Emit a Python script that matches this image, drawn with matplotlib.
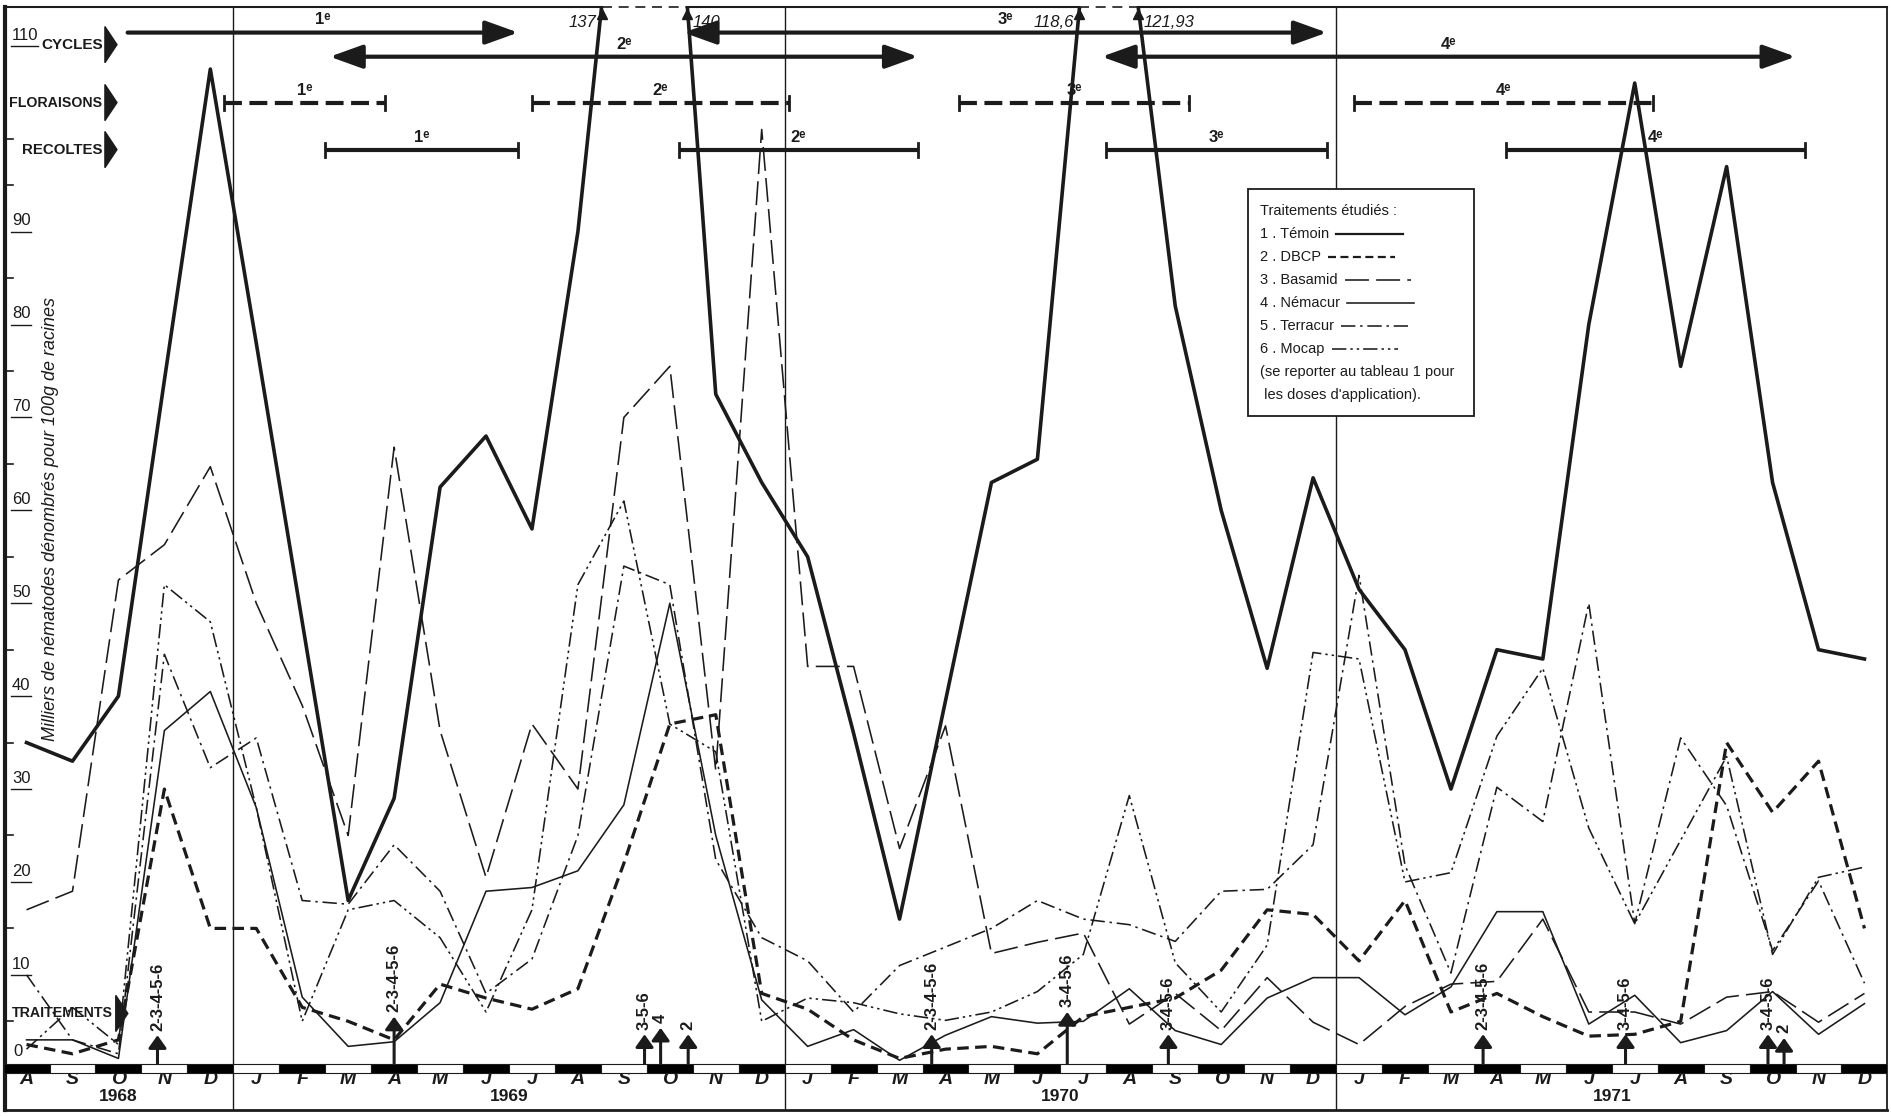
import numpy as np
import matplotlib.pyplot as plt
from matplotlib.patches import Polygon, Rectangle

# months from Aug 1968 to Dec 1971 (index 0 = Aug 1968)
month_letters = ['A', 'S', 'O', 'N', 'D'] + ['J', 'F', 'M', 'A', 'M', 'J', 'J', 'A', 'S', 'O', 'N', 'D'] * 3
years = ['1968', '1969', '1970', '1971']
year_first = [0, 5, 17, 29]
year_last = [4, 16, 28, 40]

# thousands of nematodes per 100 g of roots
temoin = [35, 33, 40, 74, 107.5, 78, 48, 18, 29, 62.5, 68, 58, 90, 137, 140, 72.5, 63,
          55, 36, 16, 39.5, 63, 65.5, 118.6, 121.93, 82, 60, 43, 63.5,
          51.5, 45, 30, 45, 44, 80, 106, 75.5, 97, 63, 45, 44]
dbcp = [2.5, 1.5, 3, 30, 15, 15, 6.5, 5, 3, 9, 7.5, 6.3, 8.5, 22, 37, 38, 8,
        6.3, 3, 1, 2, 2.3, 1.5, 5.5, 6.5, 7.5, 10.5, 17, 16.5,
        11.5, 18, 6, 8, 5.5, 3.4, 3.6, 5, 35, 27.5, 33, 15]
basamid = [17, 19, 52.5, 56.3, 64.7, 50, 39, 25, 66.8, 36.3, 20.5, 37, 30, 70, 75.5, 32, 101,
           43.2, 43.2, 23.6, 36.8, 12.3, 13.5, 14.5, 4.7, 8, 4, 9.7, 4.9,
           2.5, 6.6, 9, 9.3, 16, 6, 6, 4.7, 7.6, 8.2, 4.9, 8]
nemacur = [3, 3, 1, 36.3, 40.5, 28, 7.6, 2.3, 2.8, 7, 19, 19.4, 21.2, 28.3, 50, 25, 7.3,
           2.3, 4.1, 0.8, 3.5, 5.5, 4.8, 5, 8.5, 4, 2.5, 7.5, 9.7,
           9.7, 5.7, 8.7, 16.8, 16.8, 4.7, 7.8, 2.7, 4, 8.2, 3.6, 6.9]
terracur = [10, 3, 1.5, 44.5, 32.3, 35.5, 18, 17.6, 24, 19, 8, 11.7, 25, 54, 52, 22.4, 14,
            11.5, 6, 11, 13, 15, 18, 16, 15.4, 13.6, 19, 19.2, 24,
            53, 21.8, 10.2, 30.2, 26.5, 50, 15.5, 35.5, 28.2, 12.6, 20.1, 9.1]
mocap = [2, 6.5, 2.5, 52, 48, 28, 5, 17, 18, 14, 6, 17, 52, 61, 37, 34, 5,
         7.5, 7, 5.8, 5.1, 6, 8.2, 12.2, 29.3, 11.3, 6, 13.2, 44.7,
         44, 20, 21, 35.7, 43, 25.8, 15.5, 24.5, 33.5, 12.2, 20.5, 21.6]
names = ['Témoin', 'DBCP', 'Basamid', 'Némacur', 'Terracur', 'Mocap']

# crop periods, in month index
cycle_start = [2.2, 6.6, 14.3, 23.4]
cycle_end = [10.7, 19.4, 28.3, 38.5]
flor_start = [4.3, 11.0, 20.3, 28.9]
flor_end = [7.8, 16.6, 25.3, 35.4]
rec_start = [6.5, 14.2, 23.5, 32.2]
rec_end = [10.7, 19.4, 28.3, 38.7]
ordinals = ['1ᵉ', '2ᵉ', '3ᵉ', '4ᵉ']

# treatment dates and products
treat_when = [2.85, 8.0, 13.45, 13.8, 14.4, 19.7, 22.65, 24.85, 31.7, 34.8, 37.9, 38.25]
treat_what = ['2-3-4-5-6', '2-3-4-5-6', '3-5-6', '4', '2', '2-3-4-5-6', '3-4-5-6',
              '3-4-5-6', '2-3-4-5-6', '3-4-5-6', '3-4-5-6', '2']
arrow_top = [3.5, 5.5, 3.6, 4.3, 3.6, 3.6, 6.0, 3.6, 3.6, 3.6, 3.6, 3.2]

INK = '#1b1b1b'
SANS = ['Liberation Sans', 'DejaVu Sans']


def px(x, y):
    # place on the reference sheet -> month index / count
    return (x - 22) / 38.1, (885 - y) / 7.7


fig = plt.figure(figsize=(18.91, 11.16), dpi=100)
fig.patch.set_facecolor('white')
ax = fig.add_axes([4 / 1568, 5 / 925, 1561 / 1568, 914 / 925])
X0, X1 = px(4, 0)[0], px(1565, 0)[0]
Y0, Y1 = px(0, 920)[1], px(0, 6)[1]
ax.set_xlim(X0, X1)
ax.set_ylim(Y0, Y1)
ax.set_xticks([])
ax.set_yticks([])
ax.spines['top'].set_visible(False)
ax.spines['left'].set_linewidth(3)
ax.spines['bottom'].set_linewidth(2)
ax.spines['right'].set_linewidth(1.3)
for s in ax.spines.values():
    s.set_color(INK)

# series
idx = np.arange(len(temoin))
series = [temoin, dbcp, basamid, nemacur, terracur, mocap]
styles = [
    dict(lw=2.6, ls='-'),
    dict(lw=2.3, ls=(0, (3.6, 2.0))),
    dict(lw=1.15, ls=(0, (15, 4.5))),
    dict(lw=1.15, ls='-'),
    dict(lw=1.15, ls=(0, (9, 3, 1.5, 3))),
    dict(lw=1.15, ls=(0, (9, 2.5, 1.5, 2.5, 1.5, 2.5))),
]
for vals, st in zip(series, styles):
    ax.plot(idx, vals, color=INK, zorder=3, **st)

# off-scale values of the control: top frame dashed between exits
t = np.array(temoin, dtype=float)
ups, downs = [], []
for i in range(len(t) - 1):
    if t[i] <= Y1 < t[i + 1]:
        ups.append((i + (Y1 - t[i]) / (t[i + 1] - t[i]), i + 1))
    if t[i] > Y1 >= t[i + 1]:
        downs.append((i + (t[i] - Y1) / (t[i] - t[i + 1]), i))
edge = [X0]
for (xu, iu), (xd, idn) in zip(ups, downs):
    ax.plot([edge[-1], xu], [Y1, Y1], color=INK, lw=1.5, clip_on=False)
    ax.plot([xu, xd], [Y1, Y1], color=INK, lw=1.2, ls=(0, (6, 4)), clip_on=False)
    ax.plot([xu, xd], [Y1 - 0.7] * 2, ls='none', marker='^', ms=7, color=INK, clip_on=False)
    ax.text(xu - 0.12, Y1 - 1.6, ('%g' % t[iu]).replace('.', ','), ha='right', va='center',
            fontsize=12, fontstyle='italic', family=SANS, color=INK)
    ax.text(xd + 0.12, Y1 - 1.6, ('%g' % t[idn]).replace('.', ','), ha='left', va='center',
            fontsize=12, fontstyle='italic', family=SANS, color=INK)
    edge.append(xd)
ax.plot([edge[-1], X1], [Y1, Y1], color=INK, lw=1.5, clip_on=False)

# month strip
ax.bar(idx, 1.05, bottom=-0.6, width=1.0, color=['k' if i % 2 == 0 else 'white' for i in idx],
       edgecolor=INK, linewidth=0.8, zorder=4)
for i, m in zip(idx, month_letters):
    ax.text(i, -1.25, m, ha='center', va='center', fontsize=14, fontweight='bold',
            fontstyle='italic', family=SANS, color=INK)
for y, a, b in zip(years, year_first, year_last):
    ax.text((a + b) / 2, -3.05, y, ha='center', va='center', fontsize=12.5, fontweight='bold',
            family=SANS, color=INK)
for a in year_last[:-1]:
    ax.plot([a + 0.5, a + 0.5], [Y0, Y1], color=INK, lw=1.0, zorder=2)

# y scale written inside the frame
for v in [110, 90, 80, 70, 60, 50, 40, 30, 20, 10]:
    s = str(v)
    ax.text(px(10, 0)[0], v + 0.35, s, ha='left', va='bottom', fontsize=12, family=SANS, color=INK)
    ax.plot([px(9, 0)[0], px(9, 0)[0] + 0.15 * len(s) + 0.13], [v, v], color=INK, lw=1.0)
ax.text(px(11, 0)[0], 0.9, '0', ha='left', va='bottom', fontsize=12, family=SANS, color=INK)
for v in list(range(5, 100, 10)) + [100]:
    ax.plot([X0, px(11, 0)[0]], [v, v], color=INK, lw=1.2)
ax.text(*px(42, 430), 'Milliers de nématodes dénombrés pour 100g de racines', rotation=90,
        ha='center', va='center', fontsize=13, fontstyle='italic', family=SANS, color=INK)

# row titles with black pointers
rows = [('CYCLES', 37, 87, 11), ('FLORAISONS', 85, 87, 10.2), ('RECOLTES', 124, 87, 10.8),
        ('TRAITEMENTS', 840, 96, 10.2)]
for txt, ys, xs, fs in rows:
    ax.text(*px(xs - 2, ys), txt, ha='right', va='center', fontsize=fs, fontweight='bold',
            family=SANS, color=INK)
    a, b, c = px(xs, ys - 15), px(xs, ys + 15), px(xs + 10, ys)
    ax.add_patch(Polygon([a, b, c], closed=True, color=INK, zorder=4))

# cycles
cyc_y = [px(0, 27)[1], px(0, 47)[1]]
for k, (a, b) in enumerate(zip(cycle_start, cycle_end)):
    y = cyc_y[k % 2]
    style = '-|>' if k == 0 else '<|-|>'
    ax.annotate('', xy=(b, y), xytext=(a, y),
                arrowprops=dict(arrowstyle=style + ',head_length=1.0,head_width=0.36', lw=3,
                                color=INK, mutation_scale=20, shrinkA=0, shrinkB=0))
    ax.text((a + b) / 2, y + 0.55, ordinals[k], ha='center', va='bottom', fontsize=12,
            fontweight='bold', family=SANS, color=INK)

# flowering and harvest periods
for starts, ends, ys, ls in [(flor_start, flor_end, 85, (0, (4.3, 1.8))), (rec_start, rec_end, 124, '-')]:
    y = px(0, ys)[1]
    for k, (a, b) in enumerate(zip(starts, ends)):
        ax.plot([a, b], [y, y], color=INK, lw=3, ls=ls, solid_capstyle='butt', dash_capstyle='butt')
        for e in (a, b):
            ax.plot([e, e], [y - 0.75, y + 0.75], color=INK, lw=2)
        ax.text((a + b) / 2, y + 0.45, ordinals[k], ha='center', va='bottom', fontsize=12,
                fontweight='bold', family=SANS, color=INK)

# treatments
for x, lbl, top in zip(treat_when, treat_what, arrow_top):
    ax.annotate('', xy=(x, top), xytext=(x, 0.45),
                arrowprops=dict(arrowstyle='-|>,head_length=0.38,head_width=0.27', lw=2.2,
                                color=INK, mutation_scale=20, shrinkA=0, shrinkB=0), zorder=5)
    ax.text(x, top + 0.5, lbl, rotation=90, ha='center', va='bottom', fontsize=12,
            fontweight='bold', family=SANS, color=INK)

# key box
bx0, by0 = px(1035, 345)
bx1, by1 = px(1222, 157)
ax.add_patch(Rectangle((bx0, by0), bx1 - bx0, by1 - by0, facecolor='white', edgecolor=INK,
                       lw=1.3, zorder=6))
key_lines = ['Traitements étudiés :'] + ['%d . %s' % (k + 1, n) for k, n in enumerate(names)] + \
            ['(se reporter au tableau 1 pour', ' les doses d\'application).']
tx = px(1045, 0)[0]
key_txt = []
for j, s in enumerate(key_lines):
    key_txt.append(ax.text(tx, px(0, 175 + 19 * j)[1], s, ha='left', va='center', fontsize=10.5,
                           family=SANS, color=INK, zorder=7))
fig.canvas.draw()
inv = ax.transData.inverted()
for k, st in enumerate(styles):
    bb = key_txt[k + 1].get_window_extent()
    x0 = inv.transform((bb.x1, bb.y0))[0] + 0.15
    y = px(0, 175 + 19 * (k + 1))[1]
    ax.plot([x0, x0 + 1.45], [y, y], color=INK, zorder=7,
            **dict(st, lw=min(st['lw'], 1.6)))

fig.savefig('out.png', dpi=100, facecolor='white')
